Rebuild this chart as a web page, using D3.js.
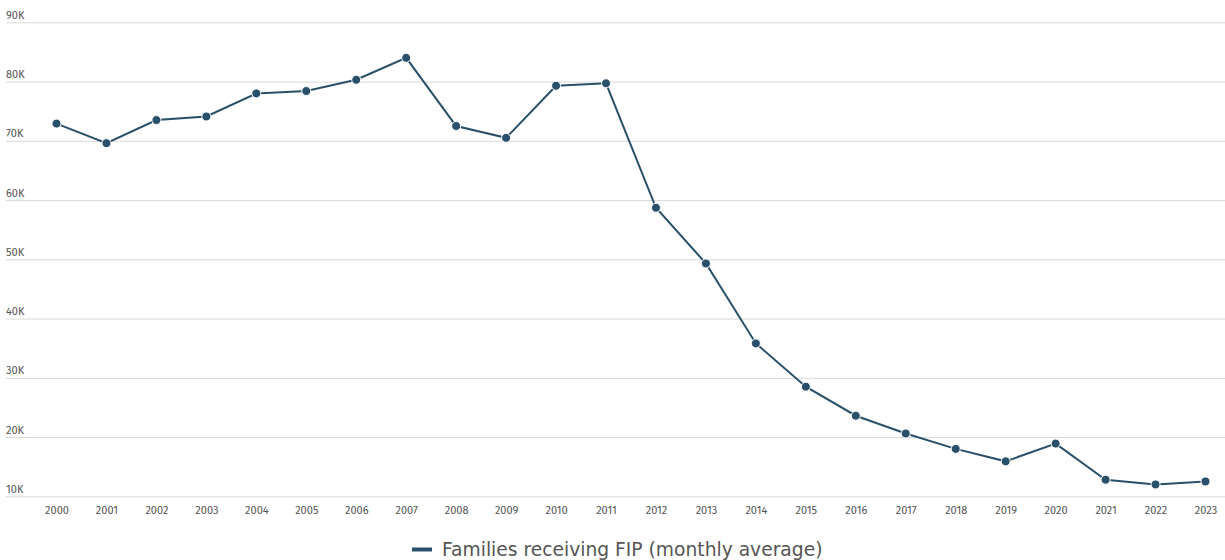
<!DOCTYPE html>
<html>
<head>
<meta charset="utf-8">
<script src="https://cdn.jsdelivr.net/npm/d3@7"></script>
<style>
  html, body { margin: 0; padding: 0; background: #fff; }
  svg { display: block; }
</style>
</head>
<body>
<svg id="chart" width="1225" height="560"></svg>
<script>
// Families receiving FIP, monthly average per year (thousands)
const years = ["2000","2001","2002","2003","2004","2005","2006","2007","2008","2009","2010","2011",
               "2012","2013","2014","2015","2016","2017","2018","2019","2020","2021","2022","2023"];
const families = [72.9, 69.6, 73.5, 74.1, 78.0, 78.4, 80.3, 84.0, 72.5, 70.5, 79.3, 79.7,
                  58.7, 49.3, 35.8, 28.5, 23.6, 20.6, 18.0, 15.9, 18.9, 12.8, 12.0, 12.5];
const yTicks = [10, 20, 30, 40, 50, 60, 70, 80, 90];
const seriesName = "Families receiving FIP (monthly average)";

const W = 1225, H = 560;
const color = "#29506b";
const svg = d3.select("#chart");

const x = d3.scalePoint().domain(years).range([56.5, 1205.5]);
const y = d3.scaleLinear().domain([10, 90]).range([496.3, 22.3]);

// horizontal grid + labels
const yAxis = d3.axisRight(y)
  .tickValues(yTicks)
  .tickSize(W - 6)
  .tickFormat(d => d + "K");
const gy = svg.append("g").attr("transform", "translate(6,0)").call(yAxis);
gy.select(".domain").remove();
gy.selectAll(".tick line").attr("stroke", "#d9d9d9").attr("stroke-width", 1);
gy.selectAll(".tick text")
  .attr("x", 0).attr("dy", -4)
  .attr("text-anchor", "start")
  .attr("fill", "#555")
  .style("font-family", "'Fira Sans', 'Open Sans', sans-serif")
  .style("font-size", "11px");

// x axis labels
const xAxis = d3.axisBottom(x).tickSize(0).tickPadding(6);
const gx = svg.append("g").attr("transform", "translate(0,500)").call(xAxis);
gx.select(".domain").remove();
gx.selectAll(".tick text")
  .attr("fill", "#555")
  .style("font-family", "'Fira Sans', 'Open Sans', sans-serif")
  .style("font-size", "11px");

// line
const line = d3.line().x((d, i) => x(years[i])).y(d => y(d));
svg.append("path")
  .datum(families)
  .attr("fill", "none")
  .attr("stroke", color)
  .attr("stroke-width", 2)
  .attr("d", line);

// markers
svg.append("g").selectAll("circle")
  .data(families)
  .join("circle")
  .attr("cx", (d, i) => x(years[i]))
  .attr("cy", d => y(d))
  .attr("r", 4.5)
  .attr("fill", color)
  .attr("stroke", "#fff")
  .attr("stroke-width", 1);

// legend
const lg = svg.append("g").attr("transform", "translate(412,549.5)");
lg.append("line")
  .attr("x1", 0).attr("x2", 20).attr("y1", 0).attr("y2", 0)
  .attr("stroke", color).attr("stroke-width", 4);
lg.append("text")
  .attr("x", 30).attr("y", 0).attr("dy", "0.35em")
  .attr("fill", "#555")
  .style("font-family", "'DejaVu Sans', sans-serif")
  .style("font-size", "18.7px")
  .text(seriesName);
</script>
</body>
</html>
